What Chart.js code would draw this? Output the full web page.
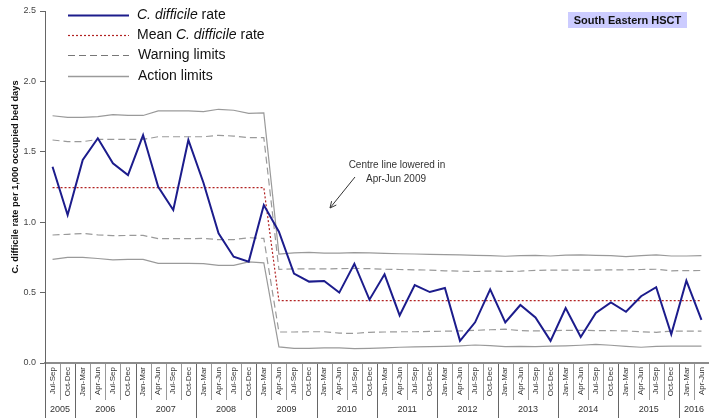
<!DOCTYPE html>
<html>
<head>
<meta charset="utf-8">
<script src="https://cdn.jsdelivr.net/npm/chart.js@4.4.0/dist/chart.umd.min.js"></script>
<style>
  html, body { margin: 0; padding: 0; background: #fff; }
  #wrap { width: 709px; height: 418px; position: relative; }
</style>
</head>
<body>
<div id="wrap"><canvas id="grafica1"></canvas></div>
<script>
// quarters Jul-Sep 2005 .. Apr-Jun 2016
const quarters = [
  'Jul-Sep', 'Oct-Dec',
  'Jan-Mar', 'Apr-Jun', 'Jul-Sep', 'Oct-Dec',
  'Jan-Mar', 'Apr-Jun', 'Jul-Sep', 'Oct-Dec',
  'Jan-Mar', 'Apr-Jun', 'Jul-Sep', 'Oct-Dec',
  'Jan-Mar', 'Apr-Jun', 'Jul-Sep', 'Oct-Dec',
  'Jan-Mar', 'Apr-Jun', 'Jul-Sep', 'Oct-Dec',
  'Jan-Mar', 'Apr-Jun', 'Jul-Sep', 'Oct-Dec',
  'Jan-Mar', 'Apr-Jun', 'Jul-Sep', 'Oct-Dec',
  'Jan-Mar', 'Apr-Jun', 'Jul-Sep', 'Oct-Dec',
  'Jan-Mar', 'Apr-Jun', 'Jul-Sep', 'Oct-Dec',
  'Jan-Mar', 'Apr-Jun', 'Jul-Sep', 'Oct-Dec',
  'Jan-Mar', 'Apr-Jun'
];
const years = ['2005', '2006', '2007', '2008', '2009', '2010', '2011', '2012', '2013', '2014', '2015', '2016'];
const yearSpans = [2, 4, 4, 4, 4, 4, 4, 4, 4, 4, 4, 2];

const rate = [
  1.394, 1.051, 1.442, 1.596, 1.418, 1.335, 1.619, 1.252, 1.087, 1.584,
  1.28, 0.921, 0.755, 0.72, 1.122, 0.933, 0.635, 0.578, 0.582, 0.50,
  0.705, 0.45, 0.63, 0.338, 0.554, 0.504, 0.533, 0.157, 0.289, 0.523,
  0.289, 0.412, 0.323, 0.157, 0.39, 0.185, 0.355, 0.43, 0.364, 0.474,
  0.538, 0.204, 0.585, 0.307
];
const mean = [
  1.245, 1.245, 1.245, 1.245, 1.245, 1.245, 1.245, 1.245, 1.245, 1.245,
  1.245, 1.245, 1.245, 1.245, 1.245, 0.443, 0.443, 0.443, 0.443, 0.443,
  0.443, 0.443, 0.443, 0.443, 0.443, 0.443, 0.443, 0.443, 0.443, 0.443,
  0.443, 0.443, 0.443, 0.443, 0.443, 0.443, 0.443, 0.443, 0.443, 0.443,
  0.443, 0.443, 0.443, 0.443
];
const warnUpper = [
  1.584, 1.572, 1.572, 1.588, 1.588, 1.588, 1.588, 1.607, 1.607, 1.607,
  1.607, 1.617, 1.612, 1.600, 1.600, 0.665, 0.668, 0.668, 0.668, 0.670,
  0.672, 0.670, 0.666, 0.664, 0.662, 0.660, 0.655, 0.652, 0.650, 0.653,
  0.650, 0.652, 0.658, 0.660, 0.660, 0.660, 0.660, 0.662, 0.662, 0.664,
  0.666, 0.655, 0.656, 0.657
];
const warnLower = [
  0.909, 0.914, 0.920, 0.910, 0.904, 0.906, 0.906, 0.883, 0.883, 0.883,
  0.885, 0.876, 0.876, 0.890, 0.885, 0.220, 0.220, 0.222, 0.222, 0.212,
  0.210, 0.218, 0.220, 0.222, 0.222, 0.224, 0.226, 0.228, 0.232, 0.236,
  0.240, 0.230, 0.228, 0.230, 0.232, 0.232, 0.230, 0.230, 0.228, 0.222,
  0.218, 0.226, 0.227, 0.227
];
const actionUpper = [
  1.756, 1.745, 1.745, 1.750, 1.764, 1.758, 1.758, 1.790, 1.790, 1.790,
  1.786, 1.802, 1.795, 1.773, 1.776, 0.773, 0.782, 0.786, 0.780, 0.780,
  0.784, 0.782, 0.778, 0.776, 0.774, 0.772, 0.770, 0.768, 0.764, 0.762,
  0.758, 0.762, 0.764, 0.760, 0.766, 0.768, 0.764, 0.762, 0.756, 0.762,
  0.768, 0.760, 0.760, 0.762
];
const actionLower = [
  0.736, 0.750, 0.750, 0.742, 0.733, 0.736, 0.736, 0.708, 0.708, 0.708,
  0.706, 0.694, 0.694, 0.718, 0.711, 0.114, 0.104, 0.104, 0.108, 0.108,
  0.102, 0.104, 0.108, 0.112, 0.114, 0.116, 0.118, 0.122, 0.128, 0.123,
  0.116, 0.118, 0.116, 0.120, 0.122, 0.126, 0.132, 0.126, 0.118, 0.112,
  0.118, 0.120, 0.120, 0.120
];

const FONT = '"Liberation Sans", Arial, sans-serif';
const BLUE = '#1c1c8c';
const RED = '#b22222';
const GREY = '#9a9a9a';

// legend, title box, annotation, y title and the two-row x axis
const extras = {
  id: 'extras',
  afterDraw(chart) {
    const ctx = chart.ctx;
    const x = chart.scales.x;
    const area = chart.chartArea;
    const step = (area.right - area.left) / quarters.length;

    ctx.save();

    // category separators
    ctx.strokeStyle = '#9a9a9a';
    ctx.lineWidth = 1;
    for (let i = 1; i < quarters.length; i++) {
      const px = Math.round(area.left + i * step) + 0.5;
      ctx.beginPath();
      ctx.moveTo(px, area.bottom + 1);
      ctx.lineTo(px, area.bottom + 37);
      ctx.stroke();
    }
    // year separators
    ctx.strokeStyle = '#666';
    let idx = 0;
    for (let k = 0; k <= years.length; k++) {
      const px = Math.round(area.left + idx * step) + 0.5;
      if (idx < quarters.length) {
        ctx.beginPath();
        ctx.moveTo(px, area.bottom + 1);
        ctx.lineTo(px, chart.height);
        ctx.stroke();
      }
      if (k < years.length) idx += yearSpans[k];
    }

    // quarter labels
    ctx.fillStyle = '#333';
    ctx.font = '8px ' + FONT;
    ctx.textAlign = 'right';
    ctx.textBaseline = 'middle';
    quarters.forEach((q, i) => {
      const px = x.getPixelForValue(i);
      ctx.save();
      ctx.translate(px, area.bottom + 4);
      ctx.rotate(-Math.PI / 2);
      ctx.fillText(q, 0, 0);
      ctx.restore();
    });

    // year labels
    ctx.font = '9px ' + FONT;
    ctx.textAlign = 'center';
    idx = 0;
    years.forEach((y, k) => {
      const a = x.getPixelForValue(idx) - step / 2;
      const b = x.getPixelForValue(idx + yearSpans[k] - 1) + step / 2;
      ctx.fillText(y, (a + b) / 2, 410);
      idx += yearSpans[k];
    });

    // y axis title
    ctx.save();
    ctx.translate(15, 177);
    ctx.rotate(-Math.PI / 2);
    ctx.font = 'bold 9.3px ' + FONT;
    ctx.fillStyle = '#111';
    ctx.textAlign = 'center';
    ctx.fillText('C. difficile rate per 1,000 occupied bed days', 0, 0);
    ctx.restore();

    // legend
    const rows = [
      { y: 15, color: BLUE, width: 2, dash: [] },
      { y: 35, color: RED, width: 1.2, dash: [2, 2] },
      { y: 55, color: '#777', width: 1.2, dash: [7, 4] },
      { y: 76, color: GREY, width: 1.5, dash: [] }
    ];
    rows.forEach(r => {
      ctx.beginPath();
      ctx.setLineDash(r.dash);
      ctx.strokeStyle = r.color;
      ctx.lineWidth = r.width;
      ctx.moveTo(68, r.y + 0.5);
      ctx.lineTo(129, r.y + 0.5);
      ctx.stroke();
    });
    ctx.setLineDash([]);
    ctx.fillStyle = '#111';
    ctx.textAlign = 'left';
    ctx.textBaseline = 'middle';
    const seg = (parts, px, py) => {
      parts.forEach(p => {
        ctx.font = (p.it ? 'italic ' : '') + '14px ' + FONT;
        ctx.fillText(p.t, px, py);
        px += ctx.measureText(p.t).width;
      });
    };
    seg([{ t: 'C. difficile', it: true }, { t: ' rate' }], 137, 15);
    seg([{ t: 'Mean ' }, { t: 'C. difficile', it: true }, { t: ' rate' }], 137, 35);
    seg([{ t: 'Warning limits' }], 138, 55);
    seg([{ t: 'Action limits' }], 138, 76);

    // trust box
    ctx.fillStyle = '#ccccff';
    ctx.fillRect(568, 12, 119, 16);
    ctx.fillStyle = '#111';
    ctx.font = 'bold 11px ' + FONT;
    ctx.textAlign = 'center';
    ctx.fillText('South Eastern HSCT', 627.5, 20.5);

    // annotation
    ctx.fillStyle = '#333';
    ctx.font = '10px ' + FONT;
    ctx.fillText('Centre line lowered in', 397, 165);
    ctx.fillText('Apr-Jun 2009', 396, 179);
    ctx.strokeStyle = '#333';
    ctx.lineWidth = 1;
    ctx.beginPath();
    ctx.moveTo(355, 177);
    ctx.lineTo(330, 208);
    ctx.stroke();
    const ang = Math.atan2(208 - 177, 330 - 355);
    ctx.beginPath();
    ctx.moveTo(330 - 7 * Math.cos(ang - 0.45), 208 - 7 * Math.sin(ang - 0.45));
    ctx.lineTo(330, 208);
    ctx.lineTo(330 - 7 * Math.cos(ang + 0.45), 208 - 7 * Math.sin(ang + 0.45));
    ctx.stroke();

    ctx.restore();
  }
};

const ctx = document.getElementById('grafica1').getContext('2d');
const line = (data, color, width, dash) => ({
  data: data,
  borderColor: color,
  borderWidth: width,
  borderDash: dash,
  pointRadius: 0,
  tension: 0,
  fill: false
});

new Chart(ctx, {
  type: 'line',
  data: {
    labels: quarters,
    datasets: [
      line(rate, BLUE, 2, []),
      line(mean, RED, 1.2, [2, 2]),
      line(warnUpper, GREY, 1.2, [7, 4]),
      line(warnLower, GREY, 1.2, [7, 4]),
      line(actionUpper, GREY, 1.2, []),
      line(actionLower, GREY, 1.2, [])
    ]
  },
  plugins: [extras],
  options: {
    responsive: true,
    maintainAspectRatio: false,
    animation: false,
    layout: { padding: { top: 11, right: 0, left: 0, bottom: 0 } },
    plugins: {
      legend: { display: false },
      tooltip: { enabled: false }
    },
    scales: {
      x: {
        offset: true,
        grid: { display: false },
        border: { display: true, color: '#8c8c8c', width: 2 },
        ticks: { display: false },
        afterFit: s => { s.height = 55; }
      },
      y: {
        min: 0,
        max: 2.5,
        afterFit: s => { s.width = 45; },
        grid: { drawOnChartArea: false, drawTicks: true, tickLength: 5, color: '#666' },
        border: { display: true, color: '#666', width: 1 },
        ticks: {
          stepSize: 0.5,
          padding: 4,
          color: '#444',
          font: { family: FONT, size: 9 },
          callback: v => v.toFixed(1)
        }
      }
    }
  }
});
</script>
</body>
</html>
